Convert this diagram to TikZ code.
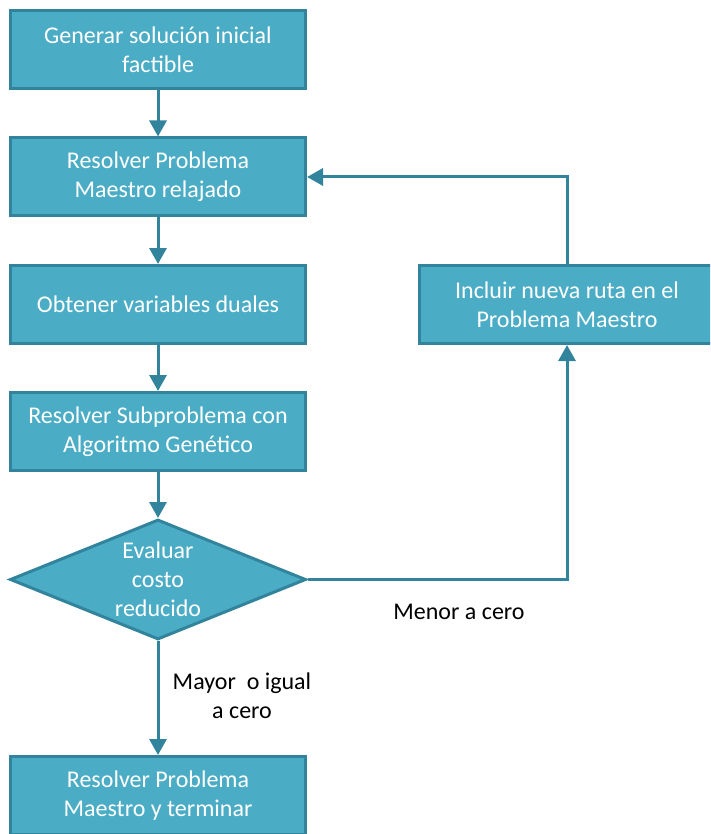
\documentclass[tikz,border=0pt]{standalone}
\usepackage{fontspec}
\setmainfont{Carlito}
\usetikzlibrary{shapes.geometric,arrows.meta}
\definecolor{boxfill}{HTML}{4BACC6}
\definecolor{boxline}{HTML}{31849B}
\tikzset{
  txt/.style={font=\fontsize{24pt}{29pt}\selectfont},
  stepbox/.style={txt, draw=boxline, fill=boxfill, line width=3pt, minimum width=295pt,
    minimum height=78pt, align=center, text=white, inner sep=0pt},
  decision/.style={txt, draw=boxline, fill=boxfill, line width=3pt, diamond, aspect=2.47,
    minimum width=296pt, minimum height=120pt, inner sep=0pt, align=center,
    text=white},
  flow/.style={draw=boxline, line width=3pt,
    -{Triangle[length=16pt,width=17pt]}},
  note/.style={txt, align=center, text=black}
}
\begin{document}
\begin{tikzpicture}[x=1pt,y=-1pt]
  \useasboundingbox (0,0) rectangle (710,834);
  \clip (0,0) rectangle (710,834);
  \node[stepbox] (gen)  at (158,49.5)  {Generar solución inicial\\factible};
  \node[stepbox] (rpm)  at (158,177)   {Resolver Problema\\Maestro relajado};
  \node[stepbox] (dual) at (158,304.5) {Obtener variables duales};
  \node[stepbox] (sub)  at (158,431.5) {Resolver Subproblema con\\Algoritmo Genético};
  \node[decision] (eval) at (158,579.5) {Evaluar\\costo\\reducido};
  \node[stepbox] (fin)  at (158,795.5) {Resolver Problema\\Maestro y terminar};
  \node[stepbox] (inc)  at (567,304.5) {Incluir nueva ruta en el\\Problema Maestro};
  \coordinate (cr) at (567,579.5);
  \coordinate (ct) at (567,177);

  \draw[flow] (gen) -- (rpm);
  \draw[flow] (rpm) -- (dual);
  \draw[flow] (dual) -- (sub);
  \draw[flow] (sub) -- (eval);
  \draw[flow] (eval.south) -- (fin);
  \draw[flow] (eval.east) -- (cr) -- (inc.south);
  \draw[flow] (inc.north) -- (ct) -- (rpm.east);

  \node[note] (lmay) at (242,696) {Mayor~ o igual\\a cero};
  \node[note] (lmen) at (459,612) {Menor a cero};
\end{tikzpicture}
\end{document}
